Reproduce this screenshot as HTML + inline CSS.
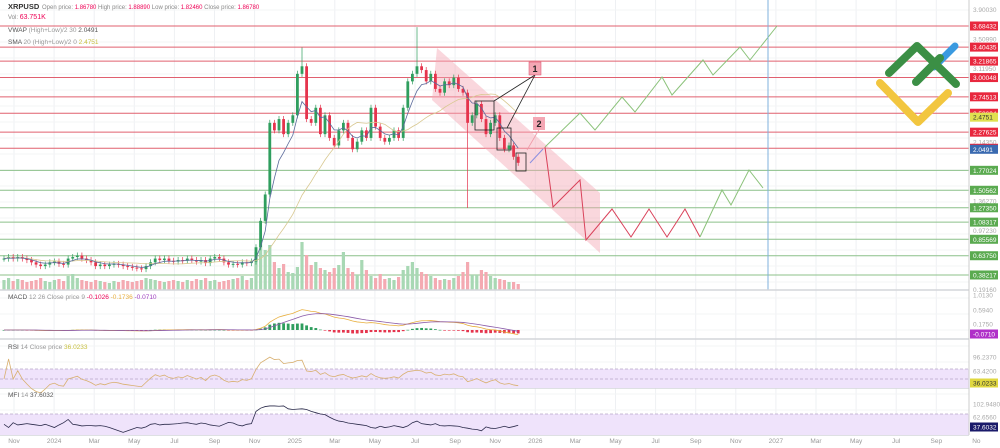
<!DOCTYPE html>
<html><head><meta charset="utf-8"><style>
html,body{margin:0;padding:0;background:#fff;}
svg{display:block;font-family:"Liberation Sans",sans-serif;}
</style></head><body>
<svg id="chart" width="1000" height="448" viewBox="0 0 1000 448" xmlns="http://www.w3.org/2000/svg">
<g id="grid"></g>
<g id="levels"></g>
<polygon points="437,48 600,193 600,253 432,100" fill="#f4a7b4" opacity="0.45"/>
<g id="vol"></g>
<g id="candles"></g>
<g id="inds"></g>
<g fill="none" stroke-width="1">
<polyline points="530,163 543,149" stroke="#8a8ee0"/>
<polyline points="545,147 553,207 580,180 586,240 612,209 631,237 649,209 667,237 685,209 700,237" stroke="#d9425a"/>
<polyline points="700,237 722,190 731,205 749,170 763,188" stroke="#8bc27a"/>
<polyline points="545,147 580,113 595,130 622,97 635,112 662,77 672,95 703,60 713,75 740,47 750,60 777,26" stroke="#8bc27a"/>
</g>
<line x1="768" y1="0" x2="768" y2="290" stroke="#7fb0dc" stroke-width="1"/>
<g fill="none" stroke="#222" stroke-width="0.8">
<rect x="475" y="101" width="19" height="29"/>
<rect x="497" y="128" width="14" height="22"/>
<rect x="516" y="153" width="10" height="18"/>
<line x1="535" y1="75" x2="494" y2="101"/><line x1="535" y1="75" x2="507" y2="128"/>
<line x1="540" y1="128" x2="527" y2="150" stroke="#f09aa8"/>
</g>
<g><rect x="529" y="62" width="12" height="13" fill="#f4a7b4" stroke="#d46" stroke-width="0.5"/><text x="535" y="72" font-size="9" font-weight="bold" text-anchor="middle" fill="#222">1</text></g>
<g><rect x="533" y="117" width="12" height="13" fill="#f4a7b4"/><text x="539" y="127" font-size="9" font-weight="bold" text-anchor="middle" fill="#222">2</text></g>
<g fill="none" stroke-linecap="round" stroke-linejoin="round" stroke-width="8">
<polyline points="880,83 918,122 948,93" stroke="#f2c63f"/>
<line x1="934" y1="67" x2="955" y2="46" stroke="#3a9ae0" stroke-width="7"/>
<polyline points="889,73 917,46 956,84" stroke="#3b8f45"/>
<line x1="916" y1="82" x2="940" y2="58" stroke="#3b8f45"/>
</g>
<g id="panes"></g>
<g id="axis"></g>
<g font-size="6" fill="#888">
<text x="8" y="9" font-size="7.5" font-weight="bold" fill="#333">XRPUSD</text>
<text x="42" y="9">Open price: <tspan fill="#e05">1.86780</tspan>   High price: <tspan fill="#e05">1.88890</tspan>   Low price: <tspan fill="#e05">1.82460</tspan>   Close price: <tspan fill="#e05">1.86780</tspan></text>
<text x="8" y="19">Vol: <tspan fill="#e05" font-size="7">63.751K</tspan></text>
<text x="8" y="32" font-size="6.5" fill="#555">VWAP <tspan fill="#999">(High+Low)/2 30</tspan> 2.0491</text>
<text x="8" y="44" font-size="6.5" fill="#555">SMA <tspan fill="#999">20 (High+Low)/2 0</tspan> <tspan fill="#c8c040">2.4751</tspan></text>
<text x="8" y="299" font-size="6.5" fill="#555">MACD <tspan fill="#999">12 26 Close price 9</tspan> <tspan fill="#e05">-0.1026</tspan> <tspan fill="#e8b040">-0.1736</tspan> <tspan fill="#a040c0">-0.0710</tspan></text>
<text x="8" y="349" font-size="6.5" fill="#555">RSI <tspan fill="#999">14 Close price</tspan> <tspan fill="#c8c040">36.0233</tspan></text>
<text x="8" y="397" font-size="6.5" fill="#555">MFI <tspan fill="#999">14</tspan> 37.6032</text>
</g>
<g id="xaxis"></g>
</svg>
<script>
const preCloses=[0.6,0.62,0.6,0.62,0.6,0.58,0.55,0.52,0.5,0.52,0.55,0.56,0.53,0.52,0.6,0.62,0.64,0.6,0.58,0.55,0.5,0.52,0.5,0.52,0.53,0.52,0.5,0.49,0.48,0.47,0.46,0.5,0.55,0.6,0.58,0.6,0.57,0.56,0.58,0.57,0.6,0.58,0.56,0.58,0.54,0.6,0.62,0.6,0.55,0.52,0.53,0.52,0.55,0.54,0.56];
const postCloses=[0.75,1.1,1.45,2.4,2.3,2.45,2.25,2.4,2.5,3.05,3.15,2.45,2.4,2.6,2.25,2.5,2.2,2.1,2.3,2.4,2.2,2.05,2.15,2.3,2.2,2.6,2.35,2.2,2.15,2.2,2.3,2.2,2.6,2.95,3.05,3.15,3.1,2.95,3.05,2.85,2.8,2.95,2.9,3.0,2.85,2.8,2.4,2.5,2.65,2.45,2.25,2.4,2.5,2.2,2.05,2.1,1.95,1.87];
const volumes=[10,12,9,11,10,8,9,10,12,9,8,10,11,9,14,16,12,10,9,8,10,9,8,7,9,8,10,9,8,9,10,12,11,10,9,8,9,10,9,8,10,9,11,10,12,9,10,8,9,10,11,12,14,10,12,
38,50,40,45,28,22,26,18,17,23,48,35,25,28,22,20,18,22,25,38,22,18,15,30,20,14,12,16,11,12,10,13,20,24,28,22,18,16,14,12,10,11,10,12,14,18,28,15,15,20,18,14,12,11,10,8,8,6];
const mfiValues=[40,30,45,38,40,42,40,38,36,40,35,30,38,45,55,40,38,35,36,36,35,36,34,30,25,20,15,20,25,30,28,32,40,42,38,40,40,41,42,44,45,42,40,44,42,38,36,34,40,46,44,38,35,40,42,
80,90,95,97,97,96,97,88,86,87,88,86,80,76,72,70,62,55,50,48,44,42,40,38,36,30,28,34,30,32,36,33,30,35,45,50,42,40,38,42,36,35,36,35,34,30,28,25,24,20,32,28,27,30,34,30,33,37];
const wickIdx=[65,90,101];
const wickVal=[3.40,3.67,1.27];
const redLevels=[3.68432,3.40435,3.21865,3.00048,2.74513,2.52694,2.27625,2.06271];
const greenLevels=[1.77024,1.50562,1.27350,1.08317,0.85569,0.63750,0.38217];
const greyTicks=[3.90030,3.50990,3.11950,2.14350,1.36270,0.97230,0.19160];
const monthLabels=["Nov","2024","Mar","May","Jul","Sep","Nov","2025","Mar","May","Jul","Sep","Nov","2026","Mar","May","Jul","Sep","Nov","2027","Mar","May","Jul","Sep","No"];

const NS="http://www.w3.org/2000/svg";
function mk(tag,attrs,parent){const e=document.createElementNS(NS,tag);for(const k in attrs)e.setAttribute(k,attrs[k]);parent.appendChild(e);return e;}
const closes=preCloses.concat(postCloses);
const N=closes.length;
const X0=4,STEP=4.6,PRE=preCloses.length;
function wx(i){return i<PRE?X0+i*((256-X0)/PRE):256+(i-PRE)*STEP;}
function py(p){return 26+(3.68432-p)*75.4;}
const G=document.getElementById('grid');
for(let m=0;m<monthLabels.length;m++){const x=14+m*40.1;
 const l=mk('line',{x1:x,y1:0,x2:x,y2:435,stroke:'#eef0f3','stroke-width':1},G);
 
 }
for(let y=10;y<435;y+=16){mk('line',{x1:0,y1:y,x2:969,y2:y,stroke:'#f3f4f6','stroke-width':1},G);}
const L=document.getElementById('levels');
redLevels.forEach(v=>{const l=mk('line',{x1:0,y1:py(v),x2:969,y2:py(v),stroke:'#e0606f','stroke-width':1},L);
 
 });
greenLevels.forEach(v=>{const l=mk('line',{x1:0,y1:py(v),x2:969,y2:py(v),stroke:'#8cc08a','stroke-width':1},L);
 
 });
const V=document.getElementById('vol'),C=document.getElementById('candles');
for(let i=0;i<N;i++){
 const o=i?closes[i-1]:closes[0],c=closes[i],up=c>=o,x=wx(i);
 const vb=mk('rect',{x:x-1.6,y:290-volumes[i],width:3.2,height:volumes[i],fill:up?'#a8d8b4':'#f4aab2'},V);
 
 
 let hi=Math.max(o,c)+0.04,lo=Math.min(o,c)-0.04;
 const wi=wickIdx.indexOf(i);if(wi>=0){if(wickVal[wi]>c)hi=wickVal[wi];else lo=wickVal[wi];}
 const col=up?'#2f9e5e':'#e5344d';
 mk('line',{x1:x,y1:py(hi),x2:x,y2:py(lo),stroke:col,'stroke-width':0.7},C);
 const b=mk('rect',{x:x-1.4,y:py(Math.max(o,c)),width:2.8,height:Math.max(1,Math.abs(py(o)-py(c))),fill:col},C);
 
 
}
const I=document.getElementById('inds');
let sp=[],vp=[];let ema=closes[0];
for(let i=0;i<N;i++){let s=0,n=0;for(let j=Math.max(0,i-19);j<=i;j++){s+=closes[j];n++;}sp.push(wx(i)+','+py(s/n));
 ema=ema+(closes[i]-ema)*0.3;vp.push(wx(i)+','+py(ema));}
const s1=mk('polyline',{points:sp.join(' '),fill:'none',stroke:'#d8c890','stroke-width':0.8},I);


const v1=mk('polyline',{points:vp.join(' '),fill:'none',stroke:'#5a6a9a','stroke-width':0.8},I);


const P=document.getElementById('panes');
[290,339,388,435].forEach(y=>mk('line',{x1:0,y1:y,x2:1000,y2:y,stroke:'#d4d6da','stroke-width':1.5},P));
function emaArr(a,n){const k=2/(n+1);let e=a[0];return a.map(v=>e=e+(v-e)*k);}
const e12=emaArr(closes,12),e26=emaArr(closes,26);
const macd=closes.map((_,i)=>e12[i]-e26[i]);const sig=emaArr(macd,9);
function my(v){return 330-v*33.4;}
for(let i=0;i<N;i++){const h=macd[i]-sig[i];const r=mk('rect',{x:wx(i)-1.4,y:Math.min(my(0),my(h)),width:2.8,height:Math.max(0.6,Math.abs(my(h)-my(0))),fill:h>=0?'#2f9e5e':'#e5344d'},P);
 
 }
const ml=mk('polyline',{points:macd.map((v,i)=>wx(i)+','+my(v)).join(' '),fill:'none',stroke:'#e8b040','stroke-width':0.8},P);


const sl=mk('polyline',{points:sig.map((v,i)=>wx(i)+','+my(v)).join(' '),fill:'none',stroke:'#8a5aa8','stroke-width':0.8},P);


mk('rect',{x:0,y:369,width:969,height:19,fill:'#efe3fb'},P);
[369,379].forEach(y=>mk('line',{x1:0,y1:y,x2:969,y2:y,stroke:'#b9a8c8','stroke-dasharray':'3,2','stroke-width':0.7},P));
let ag=0,al=0;const rsi=[50];
for(let i=1;i<N;i++){const d=closes[i]-closes[i-1];const g=Math.max(d,0),l=Math.max(-d,0);
 if(i<=14){ag+=g/14;al+=l/14;}else{ag=(ag*13+g)/14;al=(al*13+l)/14;}
 rsi.push(al===0?90:100-100/(1+ag/al));}
function ry(v){return 404-v*0.5;}
const rl=mk('polyline',{points:rsi.map((v,i)=>wx(i)+','+ry(v)).join(' '),fill:'none',stroke:'#d8b070','stroke-width':0.8},P);


mk('rect',{x:0,y:414,width:969,height:21,fill:'#efe3fb'},P);
mk('line',{x1:0,y1:414,x2:969,y2:414,stroke:'#b9a8c8','stroke-dasharray':'3,2','stroke-width':0.7},P);
function fy(v){return 417+(62.656-v)*0.3226;}
const fl=mk('polyline',{points:mfiValues.map((v,i)=>wx(i)+','+fy(v)).join(' '),fill:'none',stroke:'#2a2a4a','stroke-width':0.8},P);


const A=document.getElementById('axis');
mk('rect',{x:969,y:0,width:31,height:448,fill:'#fff'},A);
mk('line',{x1:969,y1:0,x2:969,y2:435,stroke:'#ccc','stroke-width':1},A);
function tick(y,txt,fill,col){if(fill){mk('rect',{x:970,y:y-4.5,width:28,height:9,fill:fill},A);}
 const t=mk('text',{x:973,y:y+2.5,'font-size':'6.5',fill:col},A);t.textContent=txt;
 
 }
greyTicks.forEach(v=>tick(py(v),v.toFixed(5),null,'#aaa'));
redLevels.forEach(v=>tick(py(v),v.toFixed(5),'#e8283e','#fff'));
greenLevels.forEach(v=>tick(py(v),v.toFixed(5),'#5aaa50','#fff'));
tick(py(2.4751),'2.4751','#e0e050','#333');
tick(py(2.0491),'2.0491','#3a6ab0','#fff');
tick(295,'1.0130',null,'#aaa');tick(310,'0.5940',null,'#aaa');tick(324,'0.1750',null,'#aaa');
tick(334,'-0.0710','#b030c8','#fff');
tick(357,'96.2370',null,'#aaa');tick(371,'63.4200',null,'#aaa');tick(383,'36.0233','#e0d840','#333');
tick(404,'102.9480',null,'#aaa');tick(417,'62.6560',null,'#aaa');tick(427,'37.6032','#1a1a6a','#fff');
const XA=document.getElementById('xaxis');
monthLabels.forEach((m,k)=>{const t=mk('text',{x:14+k*40.1,y:443,'font-size':'6.5',fill:'#999','text-anchor':'middle'},XA);t.textContent=m;
 
 });
</script>
</body></html>
